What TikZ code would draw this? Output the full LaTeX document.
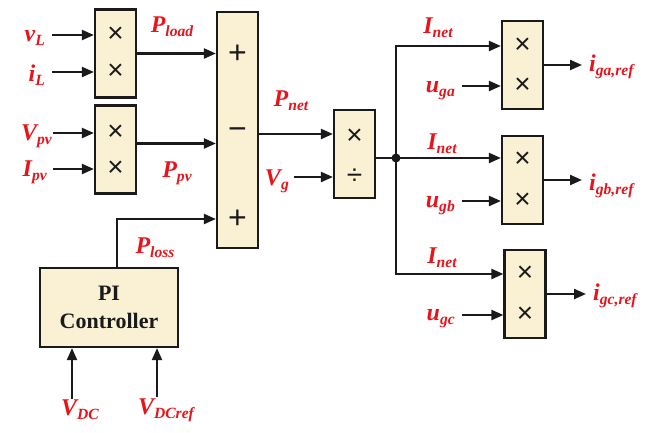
\documentclass[tikz,border=0pt]{standalone}
\usepackage{fontspec}
\setmainfont{Liberation Serif}
\newfontfamily\opfont{Liberation Sans}
\usetikzlibrary{arrows.meta,positioning,calc}
\definecolor{boxfill}{HTML}{FAF0D4}
\definecolor{sigred}{HTML}{E8141C}
\definecolor{lineblk}{HTML}{1A1A1A}
\newcommand{\sg}[2]{#1\raisebox{-0.35ex}{\scalebox{0.65}{#2}}}
\tikzset{
  blk/.style={draw=lineblk,fill=boxfill,line width=2.2pt,inner sep=0pt},
  mulbox/.style={blk,minimum width=41pt,minimum height=88pt},
  op/.style={font=\opfont\fontsize{28}{28}\selectfont,text=lineblk,inner sep=0pt},
  sig/.style={font=\fontsize{24}{26}\selectfont\bfseries\itshape,text=sigred,inner sep=1pt},
  arr/.style={-{Triangle[length=12pt,width=10pt]},line width=2.2pt,draw=lineblk},
  wire/.style={line width=2.2pt,draw=lineblk},
}
\begin{document}
\begin{tikzpicture}[x=1pt,y=-1pt]
  \useasboundingbox (0,0) rectangle (650,432);
  % power products
  \node[mulbox] (mLoad) at (115.5,53.5) {};
  \node[op] (xL1) at (115.5,35) {×};
  \node[op] (xL2) at (115.5,72) {×};
  \node[mulbox] (mPv) at (115.5,149.5) {};
  \node[op] (xP1) at (115.5,133) {×};
  \node[op] (xP2) at (115.5,169) {×};
  % summing block
  \node[blk,minimum width=41pt,minimum height=236pt] (sum) at (237.5,130) {};
  \node[op,font=\opfont\fontsize{32}{32}\selectfont] (s1) at (237.5,54) {+};
  \node[op,font=\opfont\fontsize{32}{32}\selectfont] (s2) at (237.5,134) {−};
  \node[op,font=\opfont\fontsize{32}{32}\selectfont] (s3) at (237.5,219) {+};
  % divide by grid voltage
  \node[mulbox] (div) at (354.5,154) {};
  \node[op] (xD1) at (354.5,137) {×};
  \node[op] (xD2) at (354.5,177) {÷};
  % phase multipliers
  \node[mulbox] (mA) at (522.5,65) {};
  \node[op] (xA1) at (522.5,46) {×};
  \node[op] (xA2) at (522.5,86) {×};
  \node[mulbox] (mB) at (522.5,180) {};
  \node[op] (xB1) at (522.5,160) {×};
  \node[op] (xB2) at (522.5,201) {×};
  \node[mulbox] (mC) at (525,294) {};
  \node[op] (xC1) at (525,274) {×};
  \node[op] (xC2) at (525,315) {×};
  % PI
  \node[blk,minimum width=138pt,minimum height=79pt,align=center,text=lineblk,
        font=\fontsize{22}{28}\selectfont\bfseries] (pi) at (109,307.5) {PI\\Controller};
  % signals
  \node[sig,anchor=east] (vL) at (46,38) {\sg{v}{L}};
  \node[sig,anchor=east] (iL) at (46,75) {\sg{i}{L}};
  \node[sig,anchor=east] (Vpv) at (53,136) {\sg{V}{pv}};
  \node[sig,anchor=east] (Ipv) at (48,172) {\sg{I}{pv}};
  \node[sig] (pload) at (172,27) {\sg{P}{load}};
  \node[sig] (ppv) at (177,173) {\sg{P}{pv}};
  \node[sig] (pnet) at (291,101) {\sg{P}{net}};
  \node[sig,anchor=east] (Vg) at (290,181) {\sg{V}{g}};
  \node[sig] (ploss) at (155,248) {\sg{P}{loss}};
  \node[sig] (vdc) at (80,410) {\sg{V}{DC}};
  \node[sig] (vdcref) at (166,410) {\sg{V}{DCref}};
  \node[sig] (inA) at (438,28) {\sg{I}{net}};
  \node[sig] (inB) at (442,144) {\sg{I}{net}};
  \node[sig] (inC) at (442,258) {\sg{I}{net}};
  \node[sig,anchor=east] (uga) at (456,91) {\sg{u}{ga}};
  \node[sig,anchor=east] (ugb) at (456,206) {\sg{u}{gb}};
  \node[sig,anchor=east] (ugc) at (456,319) {\sg{u}{gc}};
  \node[sig,anchor=west] (igA) at (588,67) {\sg{i}{ga,ref}};
  \node[sig,anchor=west] (igB) at (588,186) {\sg{i}{gb,ref}};
  \node[sig,anchor=west] (igC) at (592,296) {\sg{i}{gc,ref}};
  \coordinate (split) at (396,158);
  % connections
  \draw[arr] ([xshift=6pt]vL.east |- xL1) -- (xL1 -| mLoad.west);
  \draw[arr] ([xshift=6pt]iL.east |- xL2) -- (xL2 -| mLoad.west);
  \draw[arr] (Vpv.east |- xP1) -- (xP1 -| mPv.west);
  \draw[arr] ([xshift=5pt]Ipv.east |- xP2) -- (xP2 -| mPv.west);
  \draw[arr] (mLoad.east) -- (mLoad.east -| sum.west);
  \draw[arr] ([yshift=6pt]mPv.east) -- ([yshift=6pt]mPv.east -| sum.west);
  \draw[arr] ([xshift=8pt]pi.north) |- (s3 -| sum.west);
  \draw[arr] ([xshift=-37pt]pi.south |- vdc.north) -- ([xshift=-37pt]pi.south);
  \draw[arr] ([xshift=48pt]pi.south |- vdcref.north) -- ([xshift=48pt]pi.south);
  \draw[arr] (s2 -| sum.east) -- (s2 -| div.west);
  \draw[arr] ([xshift=4pt]Vg.east |- xD2) -- (xD2 -| div.west);
  \draw[wire] (div.east |- split) -- (split);
  \fill[lineblk] (split) circle (4.5pt);
  \draw[arr] (split) |- (xA1 -| mA.west);
  \draw[arr] (split) -- (split -| mB.west);
  \draw[arr] (split) |- (xC1 -| mC.west);
  \draw[arr] ([xshift=6pt]uga.east |- xA2) -- (xA2 -| mA.west);
  \draw[arr] ([xshift=6pt]ugb.east |- xB2) -- (xB2 -| mB.west);
  \draw[arr] ([xshift=6pt]ugc.east |- xC2) -- (xC2 -| mC.west);
  \draw[arr] (mA.east) -- ([xshift=-6pt]mA.east -| igA.west);
  \draw[arr] (mB.east) -- ([xshift=-6pt]mB.east -| igB.west);
  \draw[arr] (mC.east) -- ([xshift=-6pt]mC.east -| igC.west);
\end{tikzpicture}
\end{document}
